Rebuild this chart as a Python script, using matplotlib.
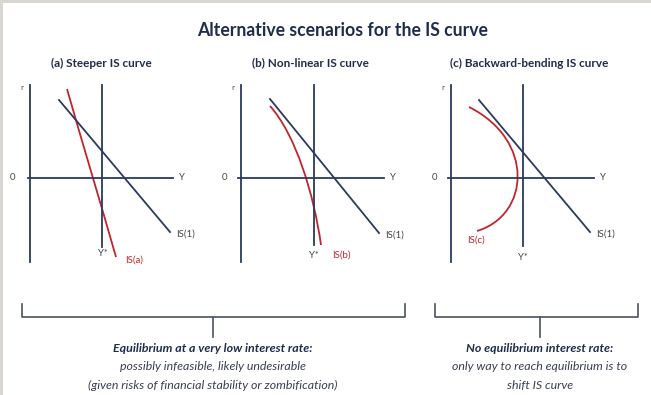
import matplotlib.pyplot as plt
from matplotlib.path import Path
from matplotlib.patches import PathPatch, Rectangle

NAVY = '#2b3a5e'
RED = '#c0262c'
TXT = '#1f2d4d'

title = 'Alternative scenarios for the IS curve'
panel_titles = ['(a) Steeper IS curve', '(b) Non-linear IS curve', '(c) Backward-bending IS curve']
panel_title_x = [101, 310, 529]
red_labels = ['IS(a)', 'IS(b)', 'IS(c)']

# axes of each panel, in pixels of the picture
r_axis_x = [30, 241, 451]
r_axis_y = (85, 262)
y_axis_y = [178, 178, 178]
y_axis_x = [(28, 173), (238, 384), (448, 594)]
ystar_x = [102, 314, 523]
ystar_bottom = [247, 245, 246]

# IS(1) line ends
is1_start = [(59, 100), (270, 99), (479, 100)]
is1_end = [(170, 232), (379, 233), (590, 232)]

# red curves: start, control 1, control 2, end
red_curves = [
    [(67, 89), (83, 145), (100, 201), (116, 257)],
    [(270, 106), (296, 135), (314, 195), (321, 245)],
    [(469, 107), (535, 140), (530, 215), (477, 231)],
]
red_label_pos = [(125, 260), (332, 255), (467, 240)]
ystar_label_pos = [(103, 253), (314, 255), (523, 258)]

# brackets below the panels
brackets = [(22, 405, 213), (435, 638, 540)]
bracket_top, bracket_line, stem_end = 304, 317, 337
notes_bold = ['Equilibrium at a very low interest rate:', 'No equilibrium interest rate:']
notes_rest = [['possibly infeasible, likely undesirable',
               '(given risks of financial stability or zombification)'],
              ['only way to reach equilibrium is to', 'shift IS curve']]

plt.rcParams['font.family'] = ['Lato', 'DejaVu Sans']
fig = plt.figure(figsize=(6.51, 3.95), dpi=100)
ax = fig.add_axes([0, 0, 1, 1])
ax.set_xlim(0, 651)
ax.set_ylim(395, 0)
ax.axis('off')

# grey frame at top and left
ax.add_patch(Rectangle((0, 0), 651, 3, color='#d9d5d1', lw=0))
ax.add_patch(Rectangle((0, 0), 3, 395, color='#d9d5d1', lw=0))

ax.text(343, 30, title, ha='center', va='center', fontsize=12.7, fontweight='bold', color=TXT)

for i in range(3):
    ax.text(panel_title_x[i], 63, panel_titles[i], ha='center', va='center',
            fontsize=8.5, fontweight='bold', color=TXT)
    x0 = r_axis_x[i]
    ax.plot([x0, x0], r_axis_y, color=NAVY, lw=1.3)
    ax.plot(y_axis_x[i], [y_axis_y[i]] * 2, color=NAVY, lw=1.3)
    ax.plot([ystar_x[i]] * 2, [r_axis_y[0], ystar_bottom[i]], color=NAVY, lw=1.3)
    ax.plot([is1_start[i][0], is1_end[i][0]], [is1_start[i][1], is1_end[i][1]], color=NAVY, lw=1.3)
    codes = [Path.MOVETO, Path.CURVE4, Path.CURVE4, Path.CURVE4]
    ax.add_patch(PathPatch(Path(red_curves[i], codes), fill=False, ec=RED, lw=1.3))

    ax.text(x0 - 8, 88, 'r', ha='center', va='center', fontsize=6, color='#555555')
    ax.text(x0 - 17, 178, '0', ha='center', va='center', fontsize=6.8, color='#444444')
    ax.text(y_axis_x[i][1] + 9, y_axis_y[i], 'Y', ha='center', va='center', fontsize=6.8, color='#444444')
    ax.text(is1_end[i][0] + 6, is1_end[i][1] + 2, 'IS(1)', ha='left', va='center', fontsize=7, color='#444444')
    ax.text(*ystar_label_pos[i], 'Y*', ha='center', va='center', fontsize=6.8, color='#444444')
    ax.text(*red_label_pos[i], red_labels[i], ha='left', va='center', fontsize=7, color=RED)

for j, (xl, xr, xm) in enumerate(brackets):
    ax.plot([xl, xl, xr, xr], [bracket_top, bracket_line, bracket_line, bracket_top],
            color='#4a5262', lw=1.2, solid_joinstyle='round')
    ax.plot([xm, xm], [bracket_line, stem_end], color='#4a5262', lw=1.2)
    ax.text(xm, 348, notes_bold[j], ha='center', va='center', fontsize=8.9,
            fontweight='bold', fontstyle='italic', color=TXT)
    for k, line in enumerate(notes_rest[j]):
        ax.text(xm, 367 + 18 * k, line, ha='center', va='center', fontsize=8.9,
                fontstyle='italic', color='#3a4052')

fig.savefig('out.png', dpi=100)
